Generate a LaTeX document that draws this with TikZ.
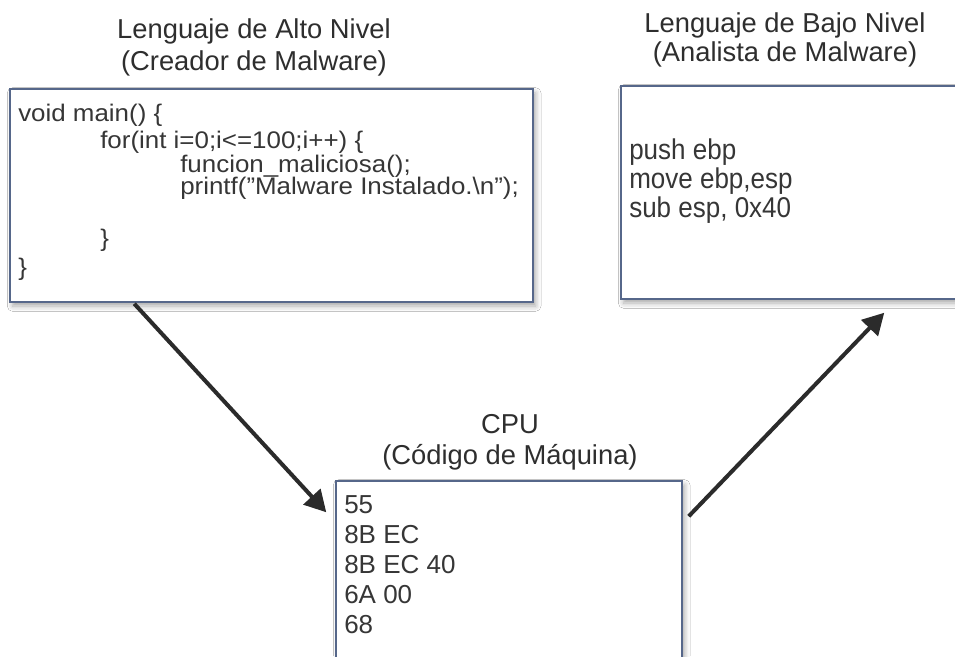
\documentclass[tikz,border=0pt]{standalone}
\usepackage{fontspec}
\setmainfont{Liberation Sans}
\usetikzlibrary{arrows.meta,calc,fit,shadows.blur}

\definecolor{ink}{HTML}{363636}
\definecolor{headink}{HTML}{2E2E2E}
\definecolor{frame}{HTML}{56678A}
\definecolor{arrowink}{HTML}{2B2B2B}

% per-box glyph proportions of the listing text
\newcommand\srcline[1]{\scalebox{1.08}[1]{#1}}
\newcommand\asmline[1]{\scalebox{1}[1.1]{#1}}

\tikzset{
  codebox/.style={draw=frame, line width=1.1pt, fill=white, inner sep=0pt,
    blur shadow={shadow xshift=2pt, shadow yshift=-3pt,
                 shadow blur radius=4pt, shadow opacity=35}},
  codeline/.style={anchor=base west, inner sep=0pt, text=ink},
  srcfont/.style={font=\fontsize{18}{22}\selectfont},
  asmfont/.style={font=\fontsize{19.5}{23}\selectfont},
  hexfont/.style={font=\fontsize{19.5}{23}\selectfont},
  heading/.style={anchor=base, inner sep=0pt, text=headink,
    font=\fontsize{20.5}{24}\selectfont},
  flow/.style={draw=arrowink, line width=3pt,
    -{Triangle[length=16pt,width=17pt]}}
}

\begin{document}
\begin{tikzpicture}[x=0.75pt,y=-0.75pt]
  \useasboundingbox (0,0) rectangle (955,656);
  \fill[white] (0,0) rectangle (955,656);
  \clip (0,0) rectangle (955,656);

  % boxes
  \node[codebox, fit={(10,89) (533,302)}] (alto) {};
  \node[codebox, fit={(621,86) (975,299)}] (bajo) {};
  \node[codebox, fit={(336,481) (682,680)}] (cpu) {};

  % headings
  \node[heading] (altoA) at (254,39) {Lenguaje de Alto Nivel};
  \node[heading] (altoB) at (254,71) {(Creador de Malware)};
  \node[heading] (bajoA) at (785,33) {Lenguaje de Bajo Nivel};
  \node[heading] (bajoB) at (785,62) {(Analista de Malware)};
  \node[heading] (cpuA) at (510,433) {CPU};
  \node[heading] (cpuB) at (510,464) {(Código de Máquina)};

  % high level source
  \begin{scope}[every node/.style={codeline, srcfont}]
    \node (c1) at (18,122) {\srcline{void main() \{}};
    \node (c2) at (100,148) {\srcline{for(int i=0;i<=100;i++) \{}};
    \node (c3) at (180,172) {\srcline{funcion\_maliciosa();}};
    \node (c4) at (180,194) {\srcline{printf("Malware Instalado.\textbackslash n");}};
    \node (c5) at (100,246) {\srcline{\}}};
    \node (c6) at (18,275) {\srcline{\}}};
  \end{scope}

  % assembly
  \begin{scope}[every node/.style={codeline, asmfont}]
    \node (a1) at (629,159) {\asmline{push ebp}};
    \node (a2) at (629,188) {\asmline{move ebp,esp}};
    \node (a3) at (629,217) {\asmline{sub esp, 0x40}};
  \end{scope}

  % machine code
  \begin{scope}[every node/.style={codeline, hexfont}]
    \node (m1) at (344,513) {55};
    \node (m2) at (344,543) {8B EC};
    \node (m3) at (344,573) {8B EC 40};
    \node (m4) at (344,603) {6A 00};
    \node (m5) at (344,633) {68};
  \end{scope}

  % connectors
  \draw[flow] ($(alto.south west)+(125,1)$) -- ($(cpu.north west)+(-9,32)$);
  \draw[flow] ($(cpu.north east)+(6,36)$) -- ($(bajo.south west)+(264,13)$);
\end{tikzpicture}
\end{document}
